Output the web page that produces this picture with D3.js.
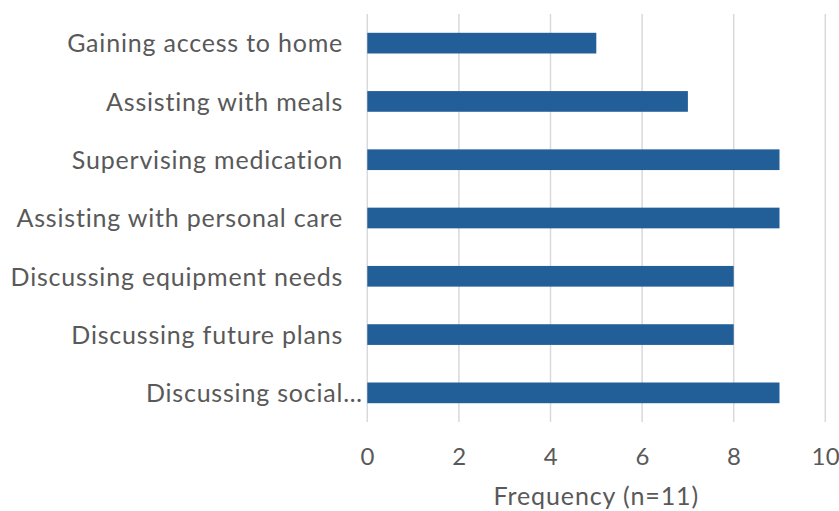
<!DOCTYPE html>
<html>
<head>
<meta charset="utf-8">
<script src="https://cdn.jsdelivr.net/npm/d3@7"></script>
<style>
  html, body { margin: 0; padding: 0; background: #fff; }
  svg text { font-family: Lato, "Open Sans", sans-serif; fill: #595959; }
</style>
</head>
<body>
<svg id="chart" width="839" height="511"></svg>
<script>
// Tasks carried out and how often they were reported
const categories = [
  "Gaining access to home",
  "Assisting with meals",
  "Supervising medication",
  "Assisting with personal care",
  "Discussing equipment needs",
  "Discussing future plans",
  "Discussing social\u2026"
];
const frequency = [5, 7, 9, 9, 8, 8, 9];
const xTicks = [0, 2, 4, 6, 8, 10];
const xTitle = "Frequency (n=11)";

const data = categories.map((c, i) => ({ category: c, value: frequency[i] }));

const svg = d3.select("#chart");
const plot = { left: 367.3, right: 825.3, top: 14, bottom: 422 };

const x = d3.scaleLinear().domain([0, 10]).range([plot.left, plot.right]);
const y = d3.scaleBand()
  .domain(categories)
  .range([plot.top, plot.bottom])
  .paddingInner(0.645)
  .paddingOuter(0.3225);

// vertical gridlines
svg.append("g")
  .selectAll("line")
  .data(xTicks)
  .join("line")
  .attr("x1", d => x(d))
  .attr("x2", d => x(d))
  .attr("y1", plot.top)
  .attr("y2", plot.bottom)
  .attr("stroke", "#d9d9d9")
  .attr("stroke-width", 1.5);

// bars
svg.append("g")
  .selectAll("rect")
  .data(data)
  .join("rect")
  .attr("x", x(0))
  .attr("y", d => y(d.category))
  .attr("width", d => x(d.value) - x(0))
  .attr("height", y.bandwidth())
  .attr("fill", "#225f99");

// x axis tick labels
const xAxis = d3.axisBottom(x).tickValues(xTicks).tickSize(0).tickPadding(0);
const gx = svg.append("g")
  .attr("transform", `translate(0,${plot.bottom})`)
  .call(xAxis);
gx.select(".domain").remove();
gx.selectAll("text")
  .attr("dy", null)
  .attr("y", 43)
  .style("font-size", "24px")
  .style("letter-spacing", "0.5px")
  .style("fill", "#595959");

// category labels; a truncated label sits closer to the axis
const yAxis = d3.axisLeft(y).tickSize(0).tickPadding(24.2);
const gy = svg.append("g")
  .attr("transform", `translate(${plot.left},0)`)
  .call(yAxis);
gy.select(".domain").remove();
gy.selectAll("text")
  .attr("dy", "0.37em")
  .attr("x", d => d.endsWith("\u2026") ? -4.5 : -24.2)
  .style("font-size", "25px")
  .style("letter-spacing", "0.8px")
  .style("fill", "#595959");

// axis title
svg.append("text")
  .attr("x", (plot.left + plot.right) / 2)
  .attr("y", 505)
  .attr("text-anchor", "middle")
  .style("font-size", "25px")
  .style("letter-spacing", "0.9px")
  .text(xTitle);
</script>
</body>
</html>
